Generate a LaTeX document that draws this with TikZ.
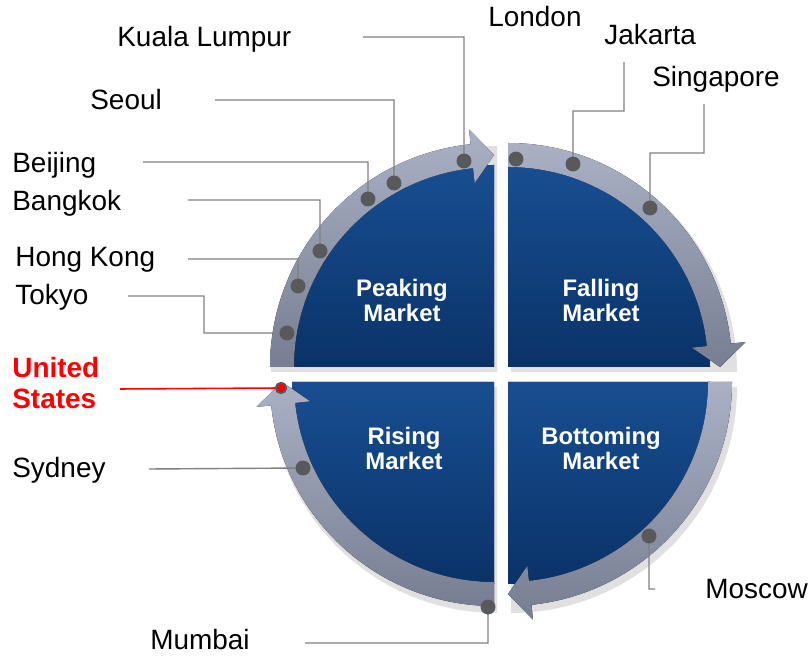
\documentclass[tikz,border=0pt]{standalone}
\usepackage{fontspec}
\setmainfont{Liberation Sans}
\usetikzlibrary{calc}
\definecolor{quadtop}{RGB}{24,78,145}
\definecolor{quadbot}{RGB}{10,50,104}
\definecolor{ringtop}{RGB}{170,177,197}
\definecolor{ringbot}{RGB}{120,126,145}
\definecolor{dotgray}{RGB}{88,89,91}
\definecolor{leadgray}{RGB}{128,128,128}
\definecolor{usred}{RGB}{255,0,0}
\tikzset{
	quad/.style={top color=quadtop, bottom color=quadbot},
	ringband/.style={top color=ringtop, bottom color=ringbot},
	city/.style={anchor=base west, inner sep=0pt, font=\fontsize{15.9}{18}\selectfont},
	mkt/.style={align=center, text=white, inner sep=0pt, font=\fontsize{13.6}{14.2}\selectfont\bfseries},
	pin/.style={circle, fill=dotgray, minimum size=8.5pt, inner sep=0pt},
	lead/.style={draw=leadgray, line width=0.8pt},
}
\begin{document}
\begin{tikzpicture}[x=0.02cm,y=0.02cm]
\useasboundingbox (0,0) rectangle (810,658);
% soft shadows, then the four quarters with their arrows
\foreach \cx/\cy/\s in {494/291/180, 508/291/90, 508/276/0, 494/276/270}
	\fill[black,opacity=.12]($(\cx,\cy)+(3,-5)$)-- ++(\s:226)arc[start angle=\s,end angle=\s-90,radius=226]--cycle;
\foreach \cx/\cy/\s [evaluate=\s as \e using \s-84, evaluate=\s as \t using \s-90] in {494/291/180, 508/291/90, 508/276/0, 494/276/270}{
	\fill[quad](\cx,\cy)-- ++(\s:202)arc[start angle=\s,end angle=\t,radius=202]--cycle;
	\fill[ringband]([shift={(\cx,\cy)}]\s:200)arc[start angle=\s,end angle=\e,radius=200]
		--([shift={(\cx,\cy)}]\e:185)--([shift={(\cx,\cy)}]\t:212)--([shift={(\cx,\cy)}]\e:239)
		--([shift={(\cx,\cy)}]\e:224)arc[start angle=\e,end angle=\s,radius=224]--cycle;
}
\node[mkt](peak)at(402,358){Peaking\\Market};
\node[mkt](fall)at(601,358){Falling\\Market};
\node[mkt](rise)at(404,210){Rising\\Market};
\node[mkt](bott)at(601,210){Bottoming\\Market};

% markers on the ring
\coordinate(kl)at(464,497);
\coordinate(london)at(516,499);
\coordinate(jakarta)at(573,494);
\coordinate(singapore)at(650,450);
\coordinate(seoul)at(394,475);
\coordinate(beijing)at(368,459);
\coordinate(bangkok)at(320,407);
\coordinate(hongkong)at(298,372);
\coordinate(tokyo)at(287,325);
\coordinate(us)at(281,270);
\coordinate(sydney)at(303,190);
\coordinate(mumbai)at(488,51);
\coordinate(moscow)at(649,122);

% free ends of the leaders
\coordinate(klstart)at(363,621);
\coordinate(seoulstart)at(215,558);
\coordinate(beijingstart)at(143,496);
\coordinate(bangkokstart)at(188,458);
\coordinate(hongkongstart)at(188,399);
\coordinate(tokyostart)at(128,362);
\coordinate(usstart)at(120,269);
\coordinate(sydneystart)at(149,189);
\coordinate(mumbaistart)at(305,15);
\coordinate(moscowend)at(655,69);
\coordinate(jakartastart)at(624,596);
\coordinate(singstart)at(704,554);

\draw[lead](klstart)-|(kl)
	(seoulstart)-|(seoul)
	(beijingstart)-|(beijing)
	(bangkokstart)-|(bangkok)
	(hongkongstart)-|(hongkong)
	(tokyostart)-- ++(76,0)|-(tokyo)
	(sydneystart)--(sydney)
	(mumbaistart)-|(mumbai)
	(moscow)|-(moscowend)
	(jakartastart)-- ++(0,-49)-|(jakarta)
	(singstart)-- ++(0,-49)-|(singapore);
\draw[usred,line width=0.9pt](usstart)--(us);

\foreach \p in {kl,london,jakarta,singapore,seoul,beijing,bangkok,hongkong,tokyo,sydney,mumbai,moscow}
	\node[pin]at(\p){};
\node[circle,fill=usred,draw=dotgray,line width=1pt,minimum size=6pt,inner sep=0pt]at(us){};

% city names
\node[city](kllab)at(117,611){Kuala Lumpur};
\node[city](londonlab)at(488,631){London};
\node[city](jakartalab)at(604,613){Jakarta};
\node[city](singlab)at(652,571){Singapore};
\node[city](seoullab)at(90,548){Seoul};
\node[city](beijinglab)at(12,485){Beijing};
\node[city](bangkoklab)at(12,447){Bangkok};
\node[city](hongkonglab)at(15,391){Hong Kong};
\node[city](tokyolab)at(15,353){Tokyo};
\node[city,anchor=west,align=left,text=usred,font=\fontsize{15.9}{18}\selectfont\bfseries](uslab)at(12,275){United\\States};
\node[city](sydneylab)at(12,180){Sydney};
\node[city](mumbailab)at(150,8){Mumbai};
\node[city](moscowlab)at(705,59){Moscow};
\end{tikzpicture}
\end{document}
